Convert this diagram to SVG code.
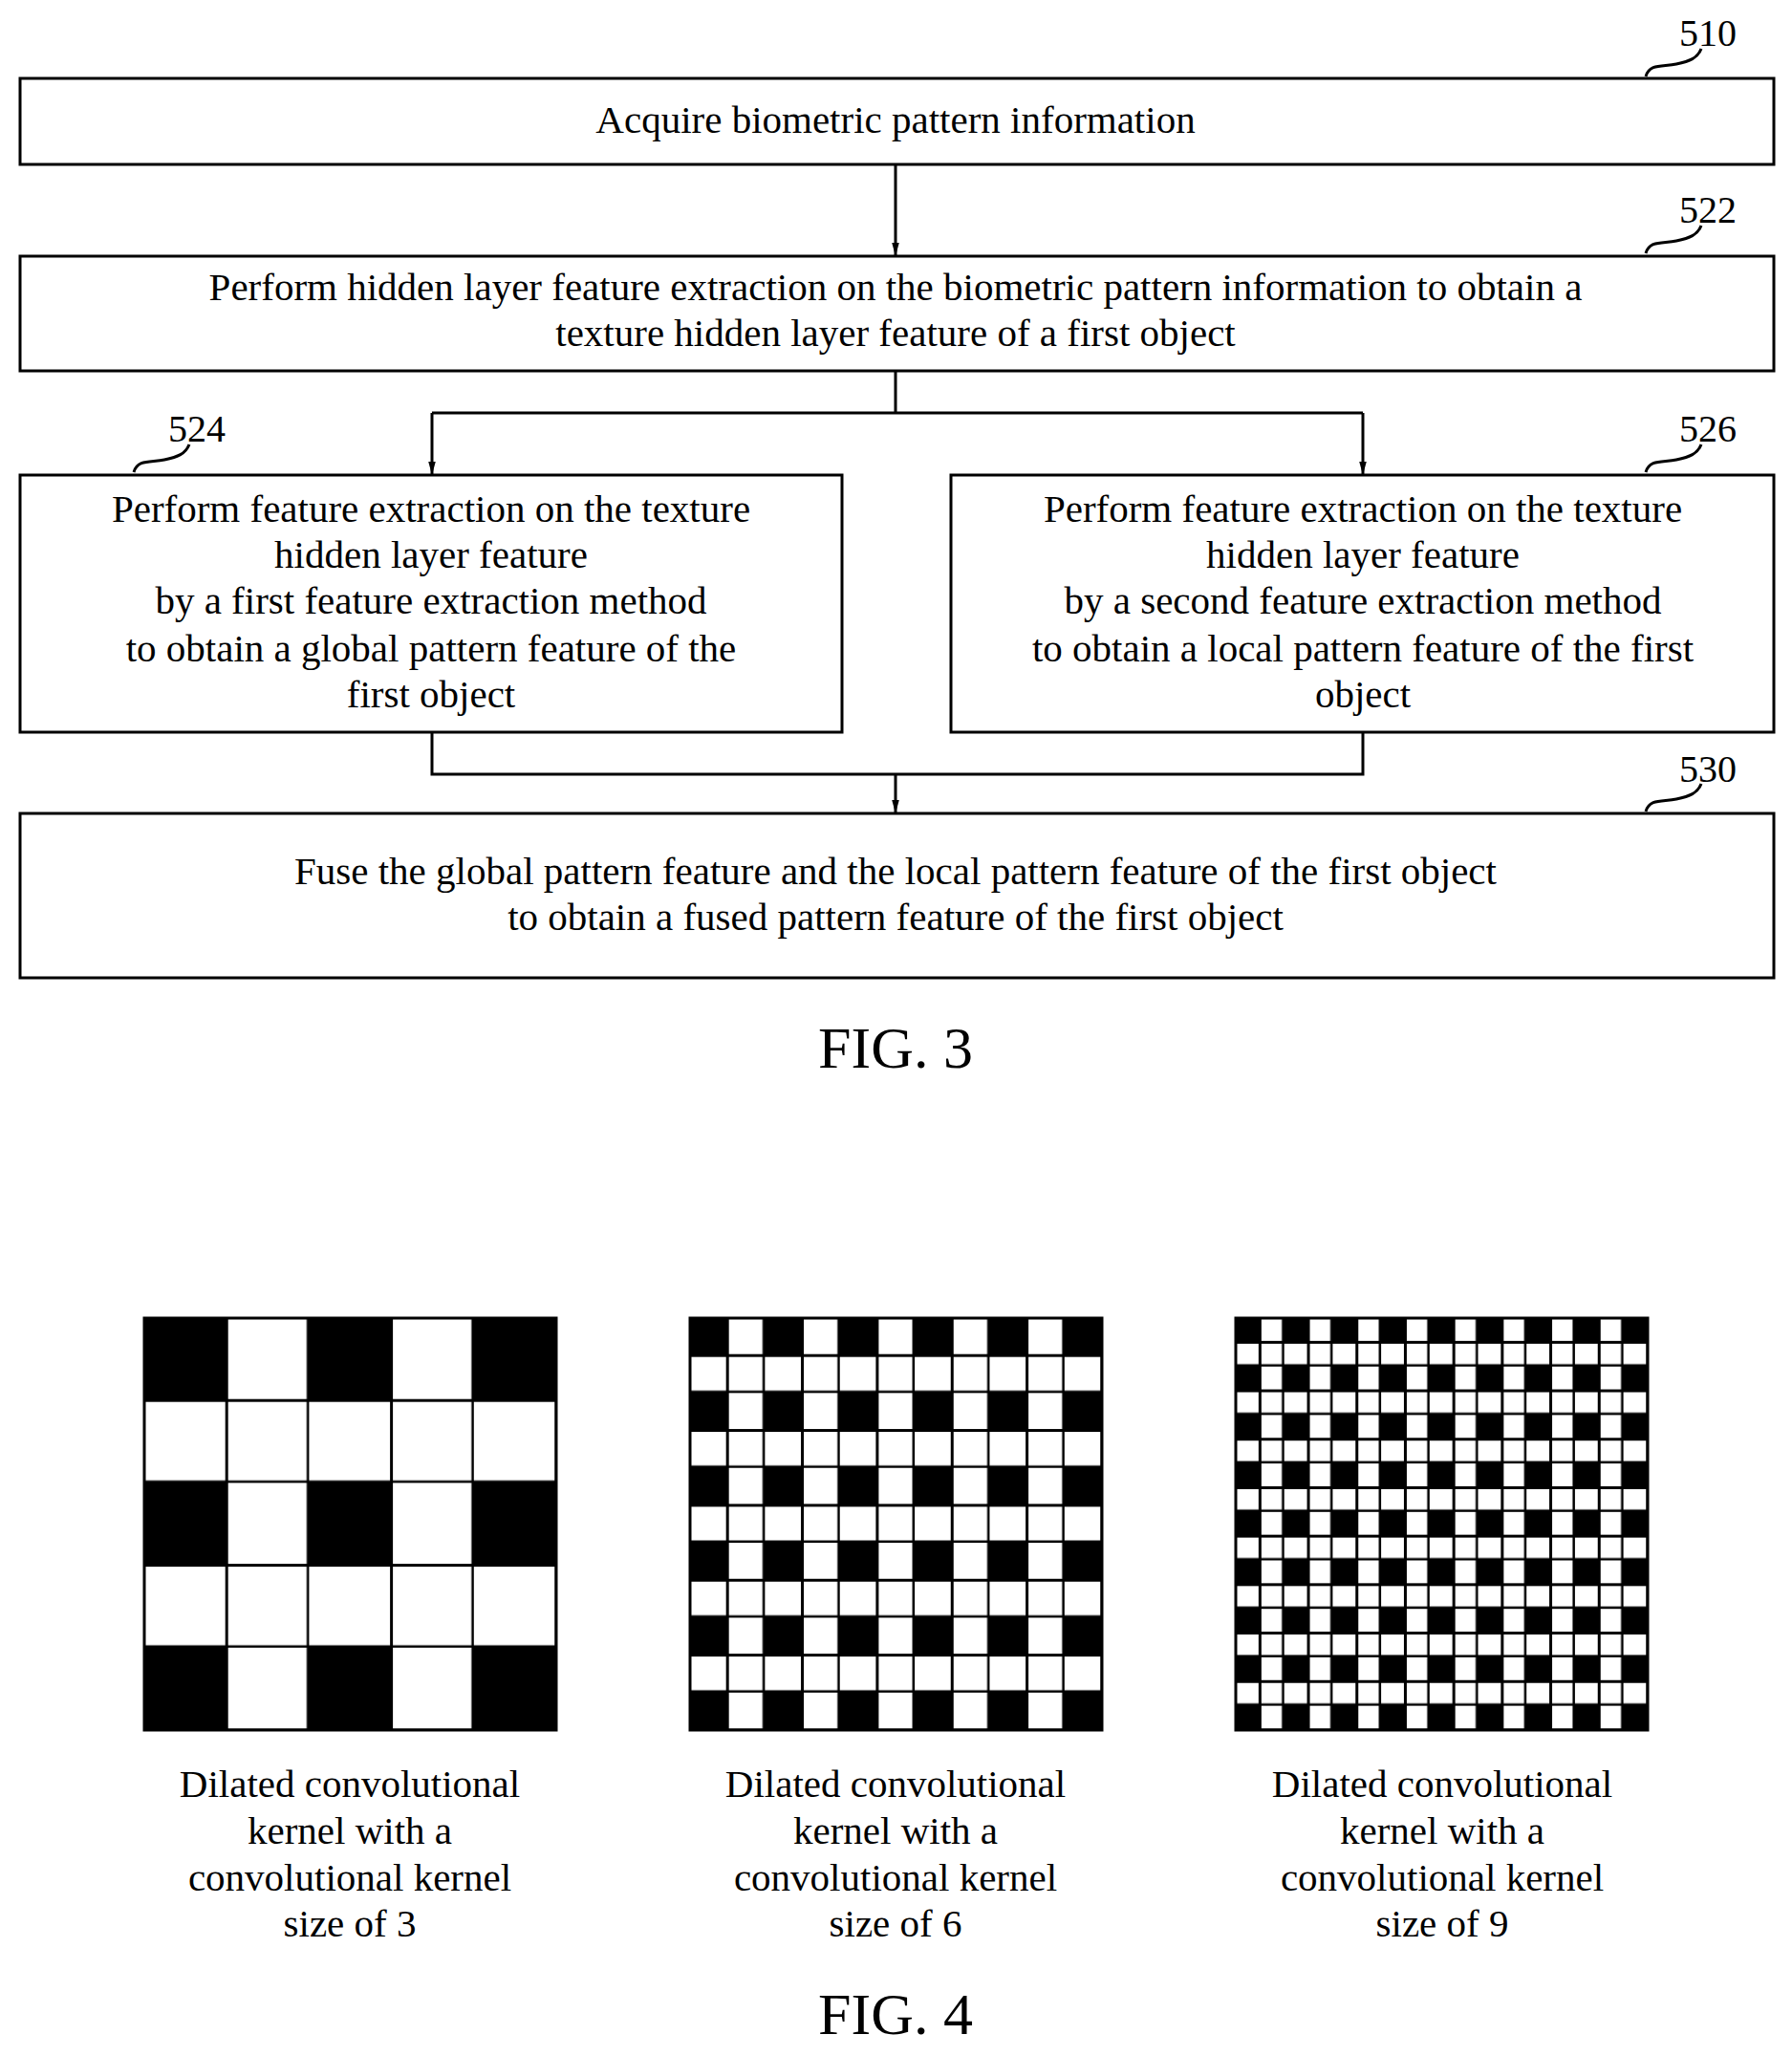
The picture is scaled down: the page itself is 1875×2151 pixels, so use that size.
<svg xmlns="http://www.w3.org/2000/svg" width="1875" height="2151" viewBox="0 0 1875 2151">
<style>
.box{fill:#fff;stroke:#000;stroke-width:3}
.t{font-family:"Liberation Serif",serif;font-size:41px;text-anchor:middle;fill:#000}
.lbl{font-family:"Liberation Serif",serif;font-size:40px;text-anchor:middle;fill:#000}
.fig{font-family:"Liberation Serif",serif;font-size:62px;text-anchor:middle;fill:#000}
.ln{fill:none;stroke:#000;stroke-width:3}
.ld{fill:none;stroke:#000;stroke-width:3}
</style>
<defs>
<marker id="ah" markerWidth="10" markerHeight="14" refX="5" refY="14" orient="auto-start-reverse" markerUnits="userSpaceOnUse" viewBox="0 0 10 14"><path d="M0,0 L10,0 L5,14 Z" fill="#000" transform="rotate(0)"/></marker>
<marker id="arr" markerWidth="14" markerHeight="26" refX="26" refY="7" orient="auto" markerUnits="userSpaceOnUse" viewBox="0 0 26 14"><path d="M0,0 L26,7 L0,14 Z" fill="#000"/></marker>
<pattern id="g1" patternUnits="userSpaceOnUse" x="151" y="1379" width="172.4" height="172.4"><rect width="172.4" height="172.4" fill="#fff"/><rect width="86.2" height="86.2" fill="#000"/><path d="M86.2,0V172.4M171.4,0V172.4M0,86.2H172.4M0,171.4H172.4" stroke="#000" stroke-width="3"/></pattern>
<pattern id="g2" patternUnits="userSpaceOnUse" x="722" y="1379" width="78.36" height="78.36"><rect width="78.36" height="78.36" fill="#fff"/><rect width="39.18" height="39.18" fill="#000"/><path d="M39.18,0V78.36M77.36,0V78.36M0,39.18H78.36M0,77.36H78.36" stroke="#000" stroke-width="3"/></pattern>
<pattern id="g3" patternUnits="userSpaceOnUse" x="1293" y="1379" width="50.7" height="50.7"><rect width="50.7" height="50.7" fill="#fff"/><rect width="25.35" height="25.35" fill="#000"/><path d="M25.35,0V50.7M49.7,0V50.7M0,25.35H50.7M0,49.7H50.7" stroke="#000" stroke-width="3"/></pattern>
</defs>
<g id="connectors">
<path class="ln" d="M937,172V268" marker-end="url(#arr)"/>
<path class="ln" d="M937,388V432"/>
<path class="ln" d="M452,432H1426"/>
<path class="ln" d="M452,432V497" marker-end="url(#arr)"/>
<path class="ln" d="M1426,432V497" marker-end="url(#arr)"/>
<path class="ln" d="M452,766V810H1426V766"/>
<path class="ln" d="M937,810V851" marker-end="url(#arr)"/>
</g>
<g id="n510"><rect class="box" x="21" y="82" width="1835" height="90"/><text class="t" x="937" y="139">Acquire biometric pattern information</text>
<text class="lbl" x="1787" y="48">510</text><path class="ld" d="M1722,80c4,-14 18,-10 32,-13s22,-6 26,-16"/></g>
<g id="n522"><rect class="box" x="21" y="268" width="1835" height="120"/><text class="t" x="937" y="314">Perform hidden layer feature extraction on the biometric pattern information to obtain a</text><text class="t" x="937" y="362">texture hidden layer feature of a first object</text>
<text class="lbl" x="1787" y="233">522</text><path class="ld" d="M1722,265c4,-14 18,-10 32,-13s22,-6 26,-16"/></g>
<g id="n524"><rect class="box" x="21" y="497" width="860" height="269"/>
<text class="t" x="451" y="546">Perform feature extraction on the texture</text><text class="t" x="451" y="594">hidden layer feature</text><text class="t" x="451" y="642">by a first feature extraction method</text><text class="t" x="451" y="692">to obtain a global pattern feature of the</text><text class="t" x="451" y="740">first object</text>
<text class="lbl" x="206" y="462">524</text><path class="ld" d="M140,494c4,-14 18,-10 32,-13s22,-6 26,-16"/></g>
<g id="n526"><rect class="box" x="995" y="497" width="861" height="269"/>
<text class="t" x="1426" y="546">Perform feature extraction on the texture</text><text class="t" x="1426" y="594">hidden layer feature</text><text class="t" x="1426" y="642">by a second feature extraction method</text><text class="t" x="1426" y="692">to obtain a local pattern feature of the first</text><text class="t" x="1426" y="740">object</text>
<text class="lbl" x="1787" y="462">526</text><path class="ld" d="M1722,494c4,-14 18,-10 32,-13s22,-6 26,-16"/></g>
<g id="n530"><rect class="box" x="21" y="851" width="1835" height="172"/><text class="t" x="937" y="925">Fuse the global pattern feature and the local pattern feature of the first object</text><text class="t" x="937" y="973">to obtain a fused pattern feature of the first object</text>
<text class="lbl" x="1787" y="818">530</text><path class="ld" d="M1722,849c4,-14 18,-10 32,-13s22,-6 26,-16"/></g>
<text class="fig" x="937" y="1117">FIG. 3</text>
<g id="grid1"><rect x="151" y="1379" width="431" height="431" fill="url(#g1)" stroke="#000" stroke-width="3"/>
<text class="t" x="366" y="1880">Dilated convolutional</text><text class="t" x="366" y="1929">kernel with a</text><text class="t" x="366" y="1978">convolutional kernel</text><text class="t" x="366" y="2026">size of 3</text></g>
<g id="grid2"><rect x="722" y="1379" width="431" height="431" fill="url(#g2)" stroke="#000" stroke-width="3"/>
<text class="t" x="937" y="1880">Dilated convolutional</text><text class="t" x="937" y="1929">kernel with a</text><text class="t" x="937" y="1978">convolutional kernel</text><text class="t" x="937" y="2026">size of 6</text></g>
<g id="grid3"><rect x="1293" y="1379" width="431" height="431" fill="url(#g3)" stroke="#000" stroke-width="3"/>
<text class="t" x="1509" y="1880">Dilated convolutional</text><text class="t" x="1509" y="1929">kernel with a</text><text class="t" x="1509" y="1978">convolutional kernel</text><text class="t" x="1509" y="2026">size of 9</text></g>
<text class="fig" x="937" y="2128">FIG. 4</text>
</svg>
